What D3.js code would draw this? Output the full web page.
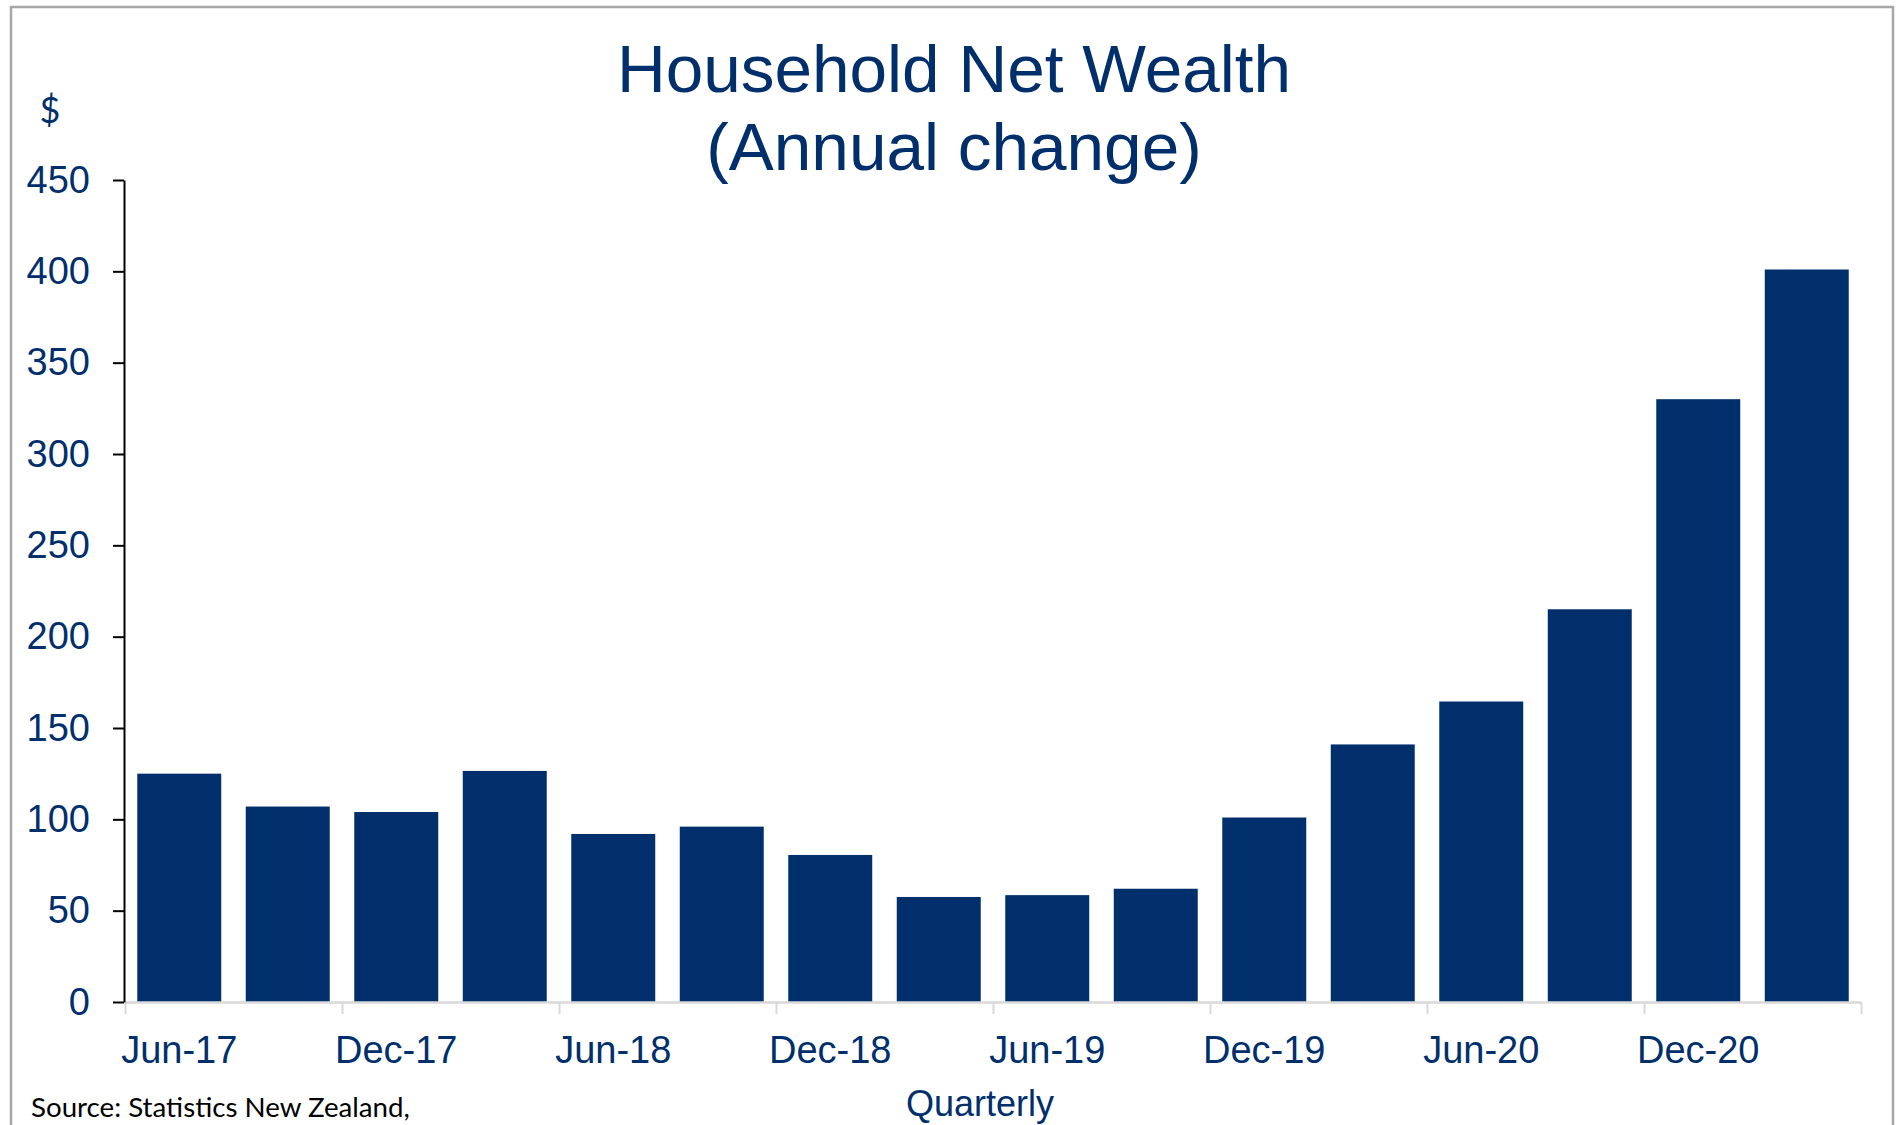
<html>
  <head>
    <title>Household Net Wealth</title>
    <script src="https://cdn.jsdelivr.net/npm/d3@7/dist/d3.min.js"></script>
    <style>
      body { margin: 0; background: #fff; }
      svg text { font-family: "Liberation Sans", Arial, sans-serif; }
    </style>
  </head>
  <body>
    <div id="chart"></div>
    <script>
      // quarters (every other one gets a label)
      var quarters = [
        "Jun-17", "Sep-17", "Dec-17", "Mar-18",
        "Jun-18", "Sep-18", "Dec-18", "Mar-19",
        "Jun-19", "Sep-19", "Dec-19", "Mar-20",
        "Jun-20", "Sep-20", "Dec-20", "Mar-21"
      ];
      var netWealthChange = [
        125, 107, 104, 126.5,
        92, 96, 80.5, 57.5,
        58.5, 62, 101, 141,
        164.5, 215, 330, 401
      ];
      var yTicks = [0, 50, 100, 150, 200, 250, 300, 350, 400, 450];
      var xLabels = ["Jun-17", "Dec-17", "Jun-18", "Dec-18", "Jun-19", "Dec-19", "Jun-20", "Dec-20"];

      var W = 1897, H = 1125;
      var navy = "#002f6c";
      // plot edges (note: "top" is a reserved global in browsers)
      var plotL = 125, plotR = 1861, plotT = 180, plotB = 1002;

      var svg = d3.select("#chart")
        .append("svg")
        .attr("width", W)
        .attr("height", H);

      // frame
      svg.append("rect")
        .attr("x", 11).attr("y", 7)
        .attr("width", 1882).attr("height", 1140)
        .attr("fill", "none")
        .attr("stroke", "#a6a6a6")
        .attr("stroke-width", 2.5);

      var x = d3.scaleBand()
        .domain(quarters)
        .range([plotL, plotR])
        .paddingInner(0.226)
        .paddingOuter(0.113);

      var y = d3.scaleLinear().domain([0, 450]).range([plotB, plotT]);

      // bars
      svg.append("g")
        .selectAll("rect")
        .data(quarters)
        .enter()
        .append("rect")
        .attr("x", (d) => x(d))
        .attr("width", x.bandwidth())
        .attr("y", (d, i) => y(netWealthChange[i]))
        .attr("height", (d, i) => plotB - y(netWealthChange[i]))
        .attr("fill", navy);

      // x axis: gray line with ticks at every second band edge
      var xEdge = d3.scaleLinear().domain([0, quarters.length]).range([plotL, plotR]);
      var xAxisG = svg.append("g")
        .attr("transform", "translate(0," + plotB + ")")
        .call(d3.axisBottom(xEdge)
          .tickValues(d3.range(0, quarters.length + 1, 2))
          .tickFormat("")
          .tickSize(12)
          .tickSizeOuter(0));
      xAxisG.select(".domain").attr("stroke", "#d9d9d9").attr("stroke-width", 2.5);
      xAxisG.selectAll(".tick line").attr("stroke", "#d9d9d9").attr("stroke-width", 2);

      // x labels
      var xLab = svg.append("g")
        .attr("transform", "translate(0," + plotB + ")")
        .call(d3.axisBottom(x).tickValues(xLabels).tickSize(0).tickPadding(34));
      xLab.select(".domain").remove();
      xLab.selectAll("text")
        .attr("font-size", 38)
        .attr("fill", navy)
        .style("font-family", "'Liberation Sans', Arial, sans-serif");

      // y axis
      var yAxisG = svg.append("g")
        .attr("transform", "translate(" + (plotL - 1) + ",0)")
        .call(d3.axisLeft(y).tickValues(yTicks).tickSize(11).tickSizeOuter(0).tickPadding(23));
      yAxisG.select(".domain").attr("stroke", "#000").attr("stroke-width", 2);
      yAxisG.selectAll(".tick line").attr("stroke", "#000").attr("stroke-width", 2);
      yAxisG.selectAll("text")
        .attr("font-size", 38)
        .attr("fill", navy)
        .style("font-family", "'Liberation Sans', Arial, sans-serif");

      // title
      svg.append("text")
        .attr("x", 954).attr("y", 92)
        .attr("text-anchor", "middle")
        .attr("font-size", 67.5)
        .attr("fill", navy)
        .text("Household Net Wealth");
      svg.append("text")
        .attr("x", 954).attr("y", 170)
        .attr("text-anchor", "middle")
        .attr("font-size", 67.5)
        .attr("fill", navy)
        .text("(Annual change)");

      // unit
      svg.append("text")
        .attr("x", 50).attr("y", 123)
        .attr("text-anchor", "middle")
        .attr("font-size", 36)
        .attr("fill", navy)
        .style("font-family", "Lato, sans-serif")
        .text("$");

      // x axis title
      svg.append("text")
        .attr("x", 980).attr("y", 1116)
        .attr("text-anchor", "middle")
        .attr("font-size", 36)
        .attr("fill", navy)
        .text("Quarterly");

      // source
      svg.append("text")
        .attr("x", 31).attr("y", 1117)
        .attr("font-size", 27.7)
        .attr("fill", "#000")
        .style("font-family", "Lato, sans-serif")
        .text("Source: Statistics New Zealand,");
    </script>
  </body>
</html>
